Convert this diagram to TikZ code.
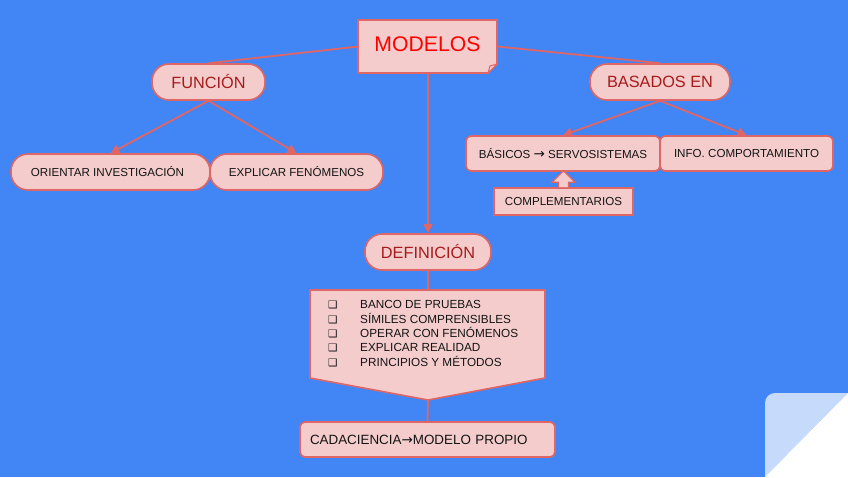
\documentclass[tikz,border=0pt]{standalone}
\usepackage{fontspec}
\setmainfont{Liberation Sans}
\newfontfamily\dejavu{DejaVu Sans}
\usetikzlibrary{arrows.meta,calc}
\definecolor{bgblue}{HTML}{4285F4}
\definecolor{pinkfill}{HTML}{F4CCCC}
\definecolor{redline}{HTML}{E06666}
\definecolor{darkred}{HTML}{A61C1C}
\definecolor{curlblue}{HTML}{C6DAFC}
\definecolor{textdark}{HTML}{141414}
\newcommand{\rarr}{{\dejavu\fontsize{13.5}{10}\selectfont →}}
\newcommand{\bul}{\makebox[32pt][l]{\dejavu\fontsize{10.5}{10}\selectfont ❑}}
\begin{document}
\begin{tikzpicture}[x=1pt,y=-1pt,
  pill/.style={draw=redline, fill=pinkfill, line width=1.6pt, rounded corners=17pt, minimum height=36pt, inner sep=0pt},
  rbox/.style={draw=redline, fill=pinkfill, line width=1.6pt, rounded corners=5pt, inner sep=0pt},
  sbox/.style={draw=redline, fill=pinkfill, line width=1.6pt, inner sep=0pt},
  conn/.style={draw=redline, line width=1.8pt},
  arr/.style={conn, -{Triangle[length=9pt,width=9pt]}},
  small/.style={font=\fontsize{11.6}{13}\selectfont, text=textdark},
  big/.style={font=\fontsize{16.3}{19}\selectfont, text=darkred}
]
\fill[bgblue] (0,0) rectangle (848,477);
\useasboundingbox (0,0) rectangle (848,477);

% page curl
\fill[curlblue] (765,477) -- (765,403) arc (180:270:10) -- (848,393) -- cycle;
\fill[white] (848,393) -- (848,477) -- (765,477) -- cycle;

% MODELOS
\node[inner sep=0pt, minimum width=139pt, minimum height=53pt] (modelos) at (428,46.5) {};
\path[sbox] (358,20) -- (497,20) -- (497,64) -- (488,73) -- (358,73) -- cycle;
\path[sbox, line width=1pt] (497,64) -- (490,66) -- (488,73) -- cycle;
\node[font=\fontsize{21.2}{24}\selectfont, text=red] at (427.5,44.5) {MODELOS};

% level 1
\node[pill, big, minimum width=113pt] (funcion) at (208.5,82) {FUNCIÓN};
\node[pill, big, minimum width=140pt] (basados) at (660,82) {BASADOS EN};

% funcion children
\node[pill, small, minimum width=199pt] (orientar) at (110.5,172) {ORIENTAR INVESTIGACIÓN\hspace*{6pt}};
\node[pill, small, minimum width=173pt] (explicar) at (296.5,172) {EXPLICAR FENÓMENOS};

% basados children
\node[rbox, small, minimum width=194pt, minimum height=35pt] (basicos) at (563,153.5) {BÁSICOS \rarr{} SERVOSISTEMAS};
\node[rbox, small, minimum width=173pt, minimum height=35pt] (info) at (746.5,153.5) {INFO. COMPORTAMIENTO};
\node[sbox, small, minimum width=139pt, minimum height=27pt] (comp) at (563.5,201.5) {COMPLEMENTARIOS};
\path[sbox, line width=1.2pt] (comp.north) ++(-5,0) -- ++(0,-5) -- ++(-6.5,0) -- ++(11.5,-11.5) -- ++(11.5,11.5) -- ++(-6.5,0) -- ++(0,5);

% definicion
\node[pill, big, minimum width=126pt] (definicion) at (428,252) {DEFINICIÓN};

% pentagon
\coordinate (ptop) at (428,290);
\coordinate (pbot) at (428,400);
\path[sbox] (310,290) -- (545,290) -- (545,378) -- (pbot) -- (310,378) -- cycle;
\node[small, anchor=north west, inner sep=0pt, font=\fontsize{11.75}{14.2}\selectfont] (lista) at (328,298.5) {%
\begin{tabular}{@{}l@{}}
\bul BANCO DE PRUEBAS\\
\bul SÍMILES COMPRENSIBLES\\
\bul OPERAR CON FENÓMENOS\\
\bul EXPLICAR REALIDAD\\
\bul PRINCIPIOS Y MÉTODOS
\end{tabular}};

% bottom box
\node[rbox, small, font=\fontsize{13.4}{15}\selectfont, minimum width=255pt, minimum height=35pt, text width=235pt, align=left] (cada) at (427.5,439.5) {CADACIENCIA\rarr MODELO PROPIO};

% connectors
\draw[conn] (modelos.west) -- (funcion.north);
\draw[conn] (modelos.east) -- (basados.north);
\draw[arr] (modelos.south) -- (definicion.north);
\draw[arr] (funcion.south) -- (orientar.north);
\draw[arr] (funcion.south) -- (explicar.north);
\draw[arr] (basados.south) -- (basicos.north);
\draw[arr] (basados.south) -- (info.north);
\draw[conn] (definicion.south) -- (ptop);
\draw[conn] (pbot) -- (cada.north);
\end{tikzpicture}
\end{document}
